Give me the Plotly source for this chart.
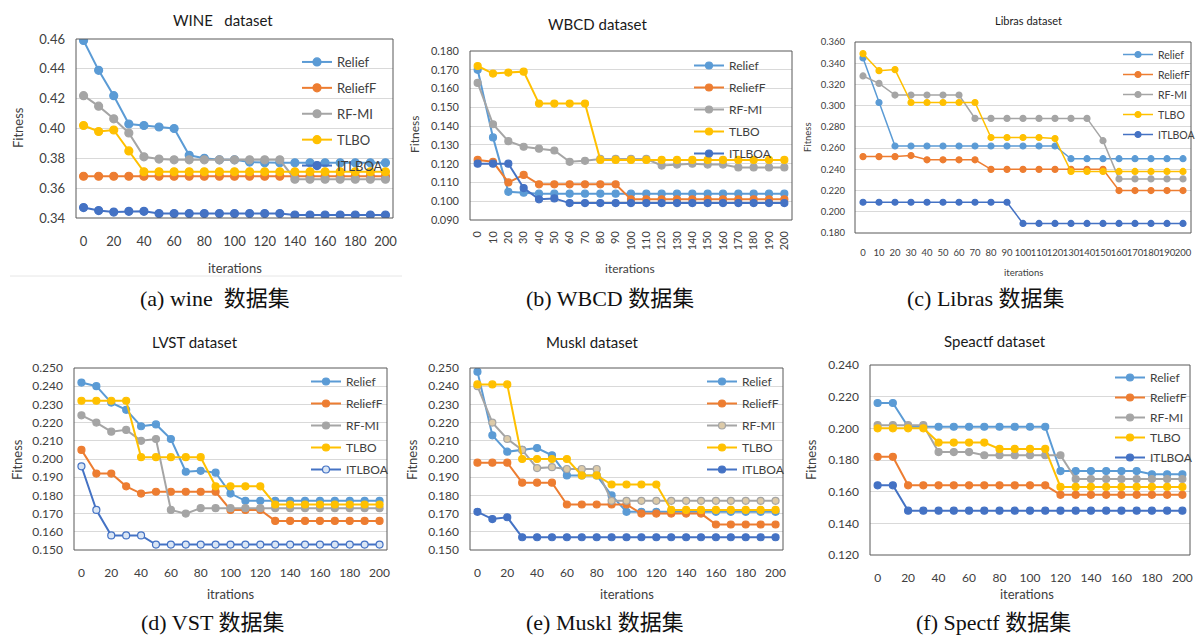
import plotly.graph_objects as go

# ---------------- data ----------------
iterations = list(range(0, 201, 10))
methods = ["Relief", "ReliefF", "RF-MI", "TLBO", "ITLBOA"]

wine_relief = [0.459, 0.439, 0.422, 0.403, 0.402, 0.401, 0.400, 0.382, 0.380, 0.379, 0.379,
               0.3775, 0.377, 0.377, 0.377, 0.377, 0.377, 0.377, 0.377, 0.377, 0.377]
wine_relieff = [0.368] * 21
wine_rfmi = [0.422, 0.415, 0.4065, 0.397, 0.381, 0.3795, 0.379, 0.379, 0.379, 0.379, 0.379,
             0.379, 0.379, 0.379, 0.366, 0.366, 0.366, 0.366, 0.366, 0.366, 0.366]
wine_tlbo = [0.402, 0.398, 0.399, 0.385, 0.371, 0.371, 0.371, 0.371, 0.371, 0.371, 0.371,
             0.371, 0.371, 0.371, 0.371, 0.371, 0.371, 0.371, 0.371, 0.371, 0.371]
wine_itlboa = [0.347, 0.345, 0.344, 0.3445, 0.3445, 0.343, 0.343, 0.343, 0.343, 0.343, 0.343,
               0.343, 0.343, 0.343, 0.342, 0.342, 0.342, 0.342, 0.342, 0.342, 0.342]

wbcd_relief = [0.170, 0.134, 0.105, 0.1045, 0.104, 0.104, 0.104, 0.104, 0.104, 0.104, 0.104,
               0.104, 0.104, 0.104, 0.104, 0.104, 0.104, 0.104, 0.104, 0.104, 0.104]
wbcd_relieff = [0.122, 0.121, 0.110, 0.114, 0.109, 0.109, 0.109, 0.109, 0.109, 0.109, 0.101,
                0.101, 0.101, 0.101, 0.101, 0.101, 0.101, 0.101, 0.101, 0.101, 0.101]
wbcd_rfmi = [0.163, 0.141, 0.132, 0.129, 0.128, 0.127, 0.121, 0.1215, 0.1225, 0.1225, 0.1225,
             0.1225, 0.119, 0.1195, 0.120, 0.1195, 0.1195, 0.118, 0.118, 0.118, 0.118]
wbcd_tlbo = [0.172, 0.168, 0.1685, 0.169, 0.152, 0.152, 0.152, 0.152, 0.122, 0.122, 0.122,
             0.122, 0.122, 0.122, 0.122, 0.122, 0.122, 0.122, 0.122, 0.122, 0.122]
wbcd_itlboa = [0.120, 0.120, 0.120, 0.107, 0.101, 0.1015, 0.099, 0.099, 0.099, 0.099, 0.099,
               0.099, 0.099, 0.099, 0.099, 0.099, 0.099, 0.099, 0.099, 0.099, 0.099]

libras_relief = [0.345, 0.303, 0.262, 0.262, 0.262, 0.262, 0.262, 0.262, 0.262, 0.262, 0.262,
                 0.262, 0.262, 0.250, 0.250, 0.250, 0.250, 0.250, 0.250, 0.250, 0.250]
libras_relieff = [0.252, 0.252, 0.252, 0.253, 0.249, 0.249, 0.249, 0.249, 0.240, 0.240, 0.240,
                  0.240, 0.240, 0.240, 0.240, 0.240, 0.220, 0.220, 0.220, 0.220, 0.220]
libras_rfmi = [0.328, 0.321, 0.310, 0.310, 0.310, 0.310, 0.310, 0.288, 0.288, 0.288, 0.288,
               0.288, 0.288, 0.288, 0.288, 0.267, 0.231, 0.231, 0.231, 0.231, 0.231]
libras_tlbo = [0.349, 0.333, 0.334, 0.303, 0.303, 0.303, 0.303, 0.303, 0.270, 0.270, 0.270,
               0.270, 0.269, 0.238, 0.238, 0.238, 0.238, 0.238, 0.238, 0.238, 0.238]
libras_itlboa = [0.209, 0.209, 0.209, 0.209, 0.209, 0.209, 0.209, 0.209, 0.209, 0.209, 0.189,
                 0.189, 0.189, 0.189, 0.189, 0.189, 0.189, 0.189, 0.189, 0.189, 0.189]

lvst_relief = [0.242, 0.240, 0.231, 0.227, 0.218, 0.219, 0.211, 0.193, 0.1935, 0.1925, 0.181,
               0.177, 0.177, 0.177, 0.177, 0.177, 0.177, 0.177, 0.177, 0.177, 0.177]
lvst_relieff = [0.205, 0.192, 0.192, 0.185, 0.181, 0.182, 0.182, 0.182, 0.182, 0.182, 0.172,
                0.172, 0.172, 0.166, 0.166, 0.166, 0.166, 0.166, 0.166, 0.166, 0.166]
lvst_rfmi = [0.224, 0.220, 0.215, 0.216, 0.210, 0.211, 0.172, 0.170, 0.173, 0.173, 0.173,
             0.173, 0.173, 0.173, 0.173, 0.173, 0.173, 0.173, 0.173, 0.173, 0.173]
lvst_tlbo = [0.232, 0.232, 0.232, 0.232, 0.201, 0.201, 0.201, 0.201, 0.201, 0.185, 0.185,
             0.185, 0.185, 0.175, 0.175, 0.175, 0.175, 0.175, 0.175, 0.175, 0.175]
lvst_itlboa = [0.196, 0.172, 0.158, 0.158, 0.158, 0.153, 0.153, 0.153, 0.153, 0.153, 0.153,
               0.153, 0.153, 0.153, 0.153, 0.153, 0.153, 0.153, 0.153, 0.153, 0.153]

muskl_relief = [0.248, 0.213, 0.204, 0.205, 0.206, 0.202, 0.191, 0.191, 0.191, 0.180, 0.171,
                0.171, 0.171, 0.171, 0.171, 0.171, 0.171, 0.171, 0.171, 0.171, 0.171]
muskl_relieff = [0.198, 0.198, 0.198, 0.187, 0.187, 0.187, 0.175, 0.175, 0.175, 0.175, 0.175,
                 0.170, 0.170, 0.170, 0.170, 0.170, 0.164, 0.164, 0.164, 0.164, 0.164]
muskl_rfmi = [0.240, 0.220, 0.211, 0.205, 0.195, 0.1955, 0.1945, 0.1945, 0.1945, 0.177, 0.177,
              0.177, 0.177, 0.177, 0.177, 0.177, 0.177, 0.177, 0.177, 0.177, 0.177]
muskl_tlbo = [0.241, 0.241, 0.241, 0.200, 0.200, 0.200, 0.200, 0.191, 0.191, 0.186, 0.186,
              0.186, 0.186, 0.172, 0.172, 0.172, 0.172, 0.172, 0.172, 0.172, 0.172]
muskl_itlboa = [0.171, 0.167, 0.168, 0.157, 0.157, 0.157, 0.157, 0.157, 0.157, 0.157, 0.157,
                0.157, 0.157, 0.157, 0.157, 0.157, 0.157, 0.157, 0.157, 0.157, 0.157]

spectf_relief = [0.216, 0.216, 0.201, 0.201, 0.201, 0.201, 0.201, 0.201, 0.201, 0.201, 0.201,
                 0.201, 0.173, 0.173, 0.173, 0.173, 0.173, 0.173, 0.171, 0.171, 0.171]
spectf_relieff = [0.182, 0.182, 0.164, 0.164, 0.164, 0.164, 0.164, 0.164, 0.164, 0.164, 0.164,
                  0.164, 0.158, 0.158, 0.158, 0.158, 0.158, 0.158, 0.158, 0.158, 0.158]
spectf_rfmi = [0.202, 0.202, 0.202, 0.202, 0.185, 0.185, 0.185, 0.183, 0.183, 0.183, 0.183,
               0.183, 0.183, 0.168, 0.168, 0.168, 0.168, 0.168, 0.168, 0.168, 0.168]
spectf_tlbo = [0.200, 0.200, 0.200, 0.200, 0.191, 0.191, 0.191, 0.191, 0.187, 0.187, 0.187,
               0.187, 0.163, 0.163, 0.163, 0.163, 0.163, 0.163, 0.163, 0.163, 0.163]
spectf_itlboa = [0.164, 0.164, 0.148, 0.148, 0.148, 0.148, 0.148, 0.148, 0.148, 0.148, 0.148,
                 0.148, 0.148, 0.148, 0.148, 0.148, 0.148, 0.148, 0.148, 0.148, 0.148]

titles = ["WINE\u00a0\u00a0\u00a0dataset", "WBCD dataset", "Libras dataset",
          "LVST dataset", "Muskl dataset", "Speactf dataset"]
captions = ["(a) wine\u00a0\u00a0数据集", "(b) WBCD 数据集", "(c) Libras 数据集",
            "(d) VST 数据集", "(e) Muskl 数据集", "(f) Spectf 数据集"]
xtitles = ["iterations", "iterations", "iterations", "itrations", "iterations", "iterations"]

# ---------------- style ----------------
colors = {"Relief": "#5B9BD5", "ReliefF": "#ED7D31", "RF-MI": "#A5A5A5",
          "TLBO": "#FFC000", "ITLBOA": "#4472C4"}
FONT = "Lato, 'Open Sans', sans-serif"
CAPFONT = "'Liberation Serif', 'Noto Sans CJK SC', serif"
W, H = 1200, 637

panels = [
    dict(series=[wine_relief, wine_relieff, wine_rfmi, wine_tlbo, wine_itlboa],
         px=(76, 393), py=(39, 218), yr=(0.34, 0.46), dy=0.02, fmt=".2f", xstep=20, angle=0,
         tf=13, ms=8, lw=2, leg=(297, 47, 13, 6), title=(223, 20, 15), fit=(18, 128, 13),
         it=(235, 268, 13), cap=(215, 298), ystand=10, xstand=14),
    dict(series=[wbcd_relief, wbcd_relieff, wbcd_rfmi, wbcd_tlbo, wbcd_itlboa],
         px=(470, 792), py=(51, 220), yr=(0.09, 0.18), dy=0.01, fmt=".3f", xstep=10, angle=-90,
         tf=11, ms=7, lw=2, leg=(689, 51, 12, 3), title=(597, 24, 15), fit=(415, 135, 12),
         it=(630, 268, 12), cap=(610, 298), ystand=10, xstand=8),
    dict(series=[libras_relief, libras_relieff, libras_rfmi, libras_tlbo, libras_itlboa],
         px=(855, 1191), py=(42, 233), yr=(0.18, 0.36), dy=0.02, fmt=".3f", xstep=10, angle=0,
         tf=9.5, ms=6, lw=1.5, leg=(1118, 40, 10.5, 1), title=(1028, 21, 11), fit=(808, 137, 9.5),
         it=(1023, 272, 9.5), cap=(986, 298), ystand=9, xstand=12),
    dict(series=[lvst_relief, lvst_relieff, lvst_rfmi, lvst_tlbo, lvst_itlboa],
         px=(74, 387), py=(368, 550), yr=(0.15, 0.25), dy=0.01, fmt=".3f", xstep=20, angle=0,
         tf=12, ms=7, lw=2, leg=(306, 367, 12, 3), title=(195, 342, 15), fit=(17, 460, 13),
         it=(230, 594, 13), cap=(212, 622), ystand=10, xstand=14),
    dict(series=[muskl_relief, muskl_relieff, muskl_rfmi, muskl_tlbo, muskl_itlboa],
         px=(470, 783), py=(368, 550), yr=(0.15, 0.25), dy=0.01, fmt=".3f", xstep=20, angle=0,
         tf=12, ms=7, lw=2, leg=(702, 367, 12, 3), title=(592, 342, 15), fit=(412, 460, 13),
         it=(627, 594, 13), cap=(605, 622), ystand=10, xstand=14),
    dict(series=[spectf_relief, spectf_relieff, spectf_rfmi, spectf_tlbo, spectf_itlboa],
         px=(870, 1190), py=(365, 555), yr=(0.12, 0.24), dy=0.02, fmt=".3f", xstep=20, angle=0,
         tf=12, ms=7, lw=2, leg=(1110, 363, 12, 1), title=(995, 341, 15), fit=(811, 460, 13),
         it=(1027, 594, 13), cap=(993, 622), ystand=10, xstand=14),
]

fig = go.Figure()
layout = dict(width=W, height=H, margin=dict(l=0, r=0, t=0, b=0, autoexpand=False),
              paper_bgcolor="white", plot_bgcolor="white",
              font=dict(family=FONT, color="#404040"), shapes=[], annotations=[])


def px2x(v):
    return v / W


def px2y(v):
    return 1 - v / H


def ann(text, x, y, size, family, color, angle=0):
    return dict(text=text, x=px2x(x), y=px2y(y), xref="paper", yref="paper",
                xanchor="center", yanchor="middle", showarrow=False, textangle=angle,
                font=dict(size=size, color=color, family=family))


for i, p in enumerate(panels, start=1):
    sfx = "" if i == 1 else str(i)
    xa, ya, lg = "x" + sfx, "y" + sfx, "legend" + sfx
    for m, vals in zip(methods, p["series"]):
        c = colors[m]
        fill, outline = c, c
        if i == 4 and m == "ITLBOA":
            fill = "#DAE6F5"
        if i == 5 and m == "RF-MI":
            fill = "#DCCAA8"
        fig.add_trace(go.Scatter(
            x=iterations, y=vals, mode="lines+markers", name=m,
            xaxis=xa, yaxis=ya, legend=lg, legendgroup=f"{i}-{m}",
            line=dict(color=c, width=p["lw"]),
            marker=dict(size=p["ms"], color=fill, line=dict(color=outline, width=1.2)),
        ))
    ticks = [t for t in iterations if t % p["xstep"] == 0]
    layout["xaxis" + sfx] = dict(
        domain=[px2x(p["px"][0]), px2x(p["px"][1])], anchor=ya, range=[-5, 205],
        tickvals=ticks, ticktext=[str(t) for t in ticks], tickangle=p["angle"],
        showgrid=False, zeroline=False, showline=False, ticks="", automargin=False,
        tickfont=dict(size=p["tf"], color="#404040", family=FONT),
        ticklabelstandoff=p["xstand"], fixedrange=True)
    y0, y1 = p["yr"]
    layout["yaxis" + sfx] = dict(
        domain=[px2y(p["py"][1]), px2y(p["py"][0])], anchor=xa, range=[y0, y1],
        tick0=y0, dtick=p["dy"], tickformat=p["fmt"], automargin=False,
        showgrid=True, gridcolor="#D9D9D9", gridwidth=1, zeroline=False, showline=False,
        ticks="", tickfont=dict(size=p["tf"], color="#404040", family=FONT),
        ticklabelstandoff=p["ystand"], fixedrange=True)
    lx, ly, lf, gap = p["leg"]
    layout[lg] = dict(x=px2x(lx), y=px2y(ly), xanchor="left", yanchor="top",
                      bgcolor="rgba(0,0,0,0)", borderwidth=0,
                      font=dict(size=lf, color="#404040", family=FONT),
                      tracegroupgap=gap, itemwidth=30, itemclick=False)
    layout["shapes"].append(dict(type="rect", xref=xa + " domain", yref=ya + " domain",
                                 x0=0, x1=1, y0=0, y1=1,
                                 line=dict(color="#595959", width=1), layer="above"))
    tx, ty, tsz = p["title"]
    layout["annotations"].append(ann(titles[i - 1], tx, ty, tsz, FONT, "#1a1a1a"))
    fx, fy, fsz = p["fit"]
    layout["annotations"].append(ann("Fitness", fx, fy, fsz, FONT, "#404040", -90))
    ix, iy, isz = p["it"]
    layout["annotations"].append(ann(xtitles[i - 1], ix, iy, isz, FONT, "#404040"))
    cx, cy = p["cap"]
    layout["annotations"].append(ann(captions[i - 1], cx, cy, 22, CAPFONT, "#111111"))

layout["shapes"].append(dict(type="line", xref="paper", yref="paper",
                             x0=px2x(10), x1=px2x(402), y0=px2y(276), y1=px2y(276),
                             line=dict(color="#E6E6E6", width=1)))

fig.update_layout(**layout)
fig.write_html("out.html", config={"displayModeBar": False},
               post_script="document.body.style.margin='0';"
                           "document.body.style.overflow='hidden';")
